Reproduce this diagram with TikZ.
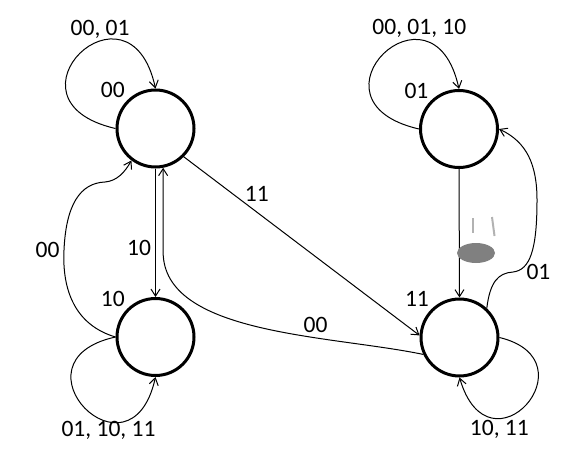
\documentclass[tikz,border=0pt]{standalone}
\usepackage{fontspec}
\setmainfont{Carlito}
\usetikzlibrary{arrows.meta, positioning, calc}

\begin{document}
\begin{tikzpicture}[
  x=0.5pt, y=-0.5pt,
  font=\fontsize{11.75}{14}\selectfont,
  state/.style  = {circle, draw=black, line width=1.5pt,
                   minimum size=38.5pt, inner sep=0pt},
  slabel/.style = {inner sep=1pt},
  lbl/.style    = {inner sep=1pt},
  arr/.style    = {-{Straight Barb[length=3.5pt, width=4.5pt]}, line width=0.5pt, black},
  smudge/.style = {line width=1pt, gray!60}
]
\useasboundingbox (0,0) rectangle (582,461);

% ── States ───────────────────────────────────────────────────────────────────
\node[state] (n00) at (155.5,128.5) {};
\node[state] (n01) at (459,129)     {};
\node[state] (n10) at (155.5,337)   {};
\node[state] (n11) at (459.5,337.5) {};

% ── State names ──────────────────────────────────────────────────────────────
\node[slabel, above left=0pt of n00] (t00) {00};
\node[slabel, above left=0pt of n01] (t01) {01};
\node[slabel, above left=0pt of n10] (t10) {10};
\node[slabel, above left=0pt of n11] (t11) {11};

% ── Self loops ───────────────────────────────────────────────────────────────
\draw[arr] (n00.west) .. controls +(-122,-28) and +(-26,-119) ..
           node[pos=0.63, above, lbl] (l00) {00, 01} (n00.north);
\draw[arr] (n01.west) .. controls +(-122,-28) and +(-26,-119) ..
           node[pos=0.72, above, lbl] (l01) {00, 01, 10} (n01.north);
\draw[arr] (n10.west) .. controls +(-110,24) and +(-25,112) ..
           node[pos=0.66, below=-1.5pt, lbl] (l10) {01, 10, 11} (n10.south);
\draw[arr] (n11.east) .. controls +(95,23) and +(30,102) ..
           node[pos=0.7, below, lbl] (l11) {10, 11} (n11.south);

% ── Straight transitions ─────────────────────────────────────────────────────
\draw[arr] (n00.south) -- node[pos=0.615, left=1pt, lbl] (e0010) {10} (n10.north);
\draw[arr] (n00.-45)   -- node[pos=0.31, above=4pt, lbl] (e0011) {11} (n11.177);
\draw[arr] (n01.south) -- (n11.north);

% ── Curved transitions ───────────────────────────────────────────────────────
\draw[arr] (n11.205) .. controls (330,335) and (163,335) ..
           node[pos=0.33, above=1.5pt, lbl] (e1100) {00} ($(n00.-79)+(0,84)$) -- (n00.-79);
\draw[arr] (n11.47) .. controls (490,282) and (498,273) .. (513,272)
           node[right=5.5pt, lbl] (e1101) {01}
           .. controls (530,270) and (537,250) .. (537,200)
           .. controls (537,165) and (527,142) .. (n01.east);
\draw[arr] (n10.west) .. controls (75,325) and (62,290) .. (64,250)
           node[left=1pt, lbl] (e1000) {00}
           .. controls (66,205) and (80,183) .. (105,182)
           .. controls (117,181) and (125,172) .. (n00.233);

% ── Smudge ───────────────────────────────────────────────────────────────────
\fill[gray] (476,253) ellipse [x radius=9.5pt, y radius=5pt];
\draw[smudge] (473,218) -- (473,233);
\draw[smudge] (492,217) -- (494.5,236);
\end{tikzpicture}
\end{document}
